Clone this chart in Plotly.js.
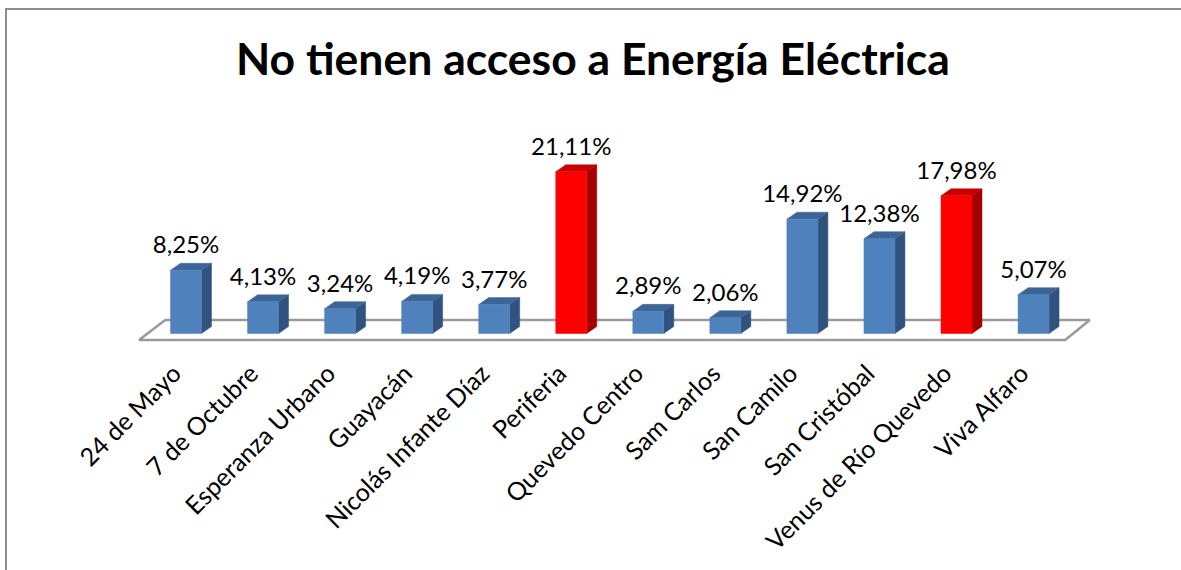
<!DOCTYPE html>
<html>
<head>
<meta charset="utf-8">
<script src="https://cdn.plot.ly/plotly-3.0.1.min.js"></script>
<style>
  html, body { margin: 0; padding: 0; background: #fff; }
  #wrap { position: relative; width: 1181px; height: 570px; overflow: hidden; }
  #chart { position: absolute; left: 0; top: 0; width: 1181px; height: 570px; }
  #frame { position: absolute; left: 5px; top: 8px; width: 1300px; height: 700px;
           border-left: 2px solid #8c8c8c; border-top: 2px solid #8c8c8c; pointer-events: none; }
</style>
</head>
<body>
<div id="wrap">
  <div id="chart"></div>
  <div id="frame"></div>
</div>
<script>
// ---- data ----
const categories = ["24 de Mayo", "7 de Octubre", "Esperanza Urbano", "Guayacán", "Nicolás Infante Díaz",
  "Periferia", "Quevedo Centro", "Sam Carlos", "San Camilo", "San Cristóbal", "Venus de Río Quevedo", "Viva Alfaro"];
const values = [8.25, 4.13, 3.24, 4.19, 3.77, 21.11, 2.89, 2.06, 14.92, 12.38, 17.98, 5.07];
const labels = ["8,25%", "4,13%", "3,24%", "4,19%", "3,77%", "21,11%", "2,89%", "2,06%", "14,92%", "12,38%", "17,98%", "5,07%"];
const highlighted = [false, false, false, false, false, true, false, false, false, false, true, false];

// ---- geometry / style ----
const pxPerUnitX = 77.05;       // pixels per category
const pxPerUnitY = 7.66;        // pixels per percent
const x0px = 186;               // pixel of first category
const y0px = 333.5;             // pixel of zero
const plotH = 353;              // plot area height (px)
const W = 1181, H = 570;
const barW = 0.402;
const depthX = 10 / pxPerUnitX;
const depthY = 7 / pxPerUnitY;
const labelGap = 4 / pxPerUnitY;
const tickShift = 12 / pxPerUnitX;

const xr = [-x0px / pxPerUnitX, (W - x0px) / pxPerUnitX];
const yr = [(y0px - plotH) / pxPerUnitY, y0px / pxPerUnitY];

const blue = {front: "#4F81BD", side: "#30527E", top: "#3C6597"};
const red = {front: "#FF0000", side: "#A30000", top: "#C80000"};

const traces = [];
// floor
const fl = -0.61, fr = 11.41, bl = -0.27, br = 11.73, fy = -0.85, by = 1.76;
traces.push({
  type: "scatter", mode: "lines", x: [fl, bl, br, fr, fl], y: [fy, by, by, fy, fy],
  fill: "toself", fillcolor: "#ffffff", line: {color: "#9a9a9a", width: 2.5},
  hoverinfo: "skip", showlegend: false
});

values.forEach((v, i) => {
  const c = highlighted[i] ? red : blue;
  const xl = i - barW / 2, xrr = i + barW / 2;
  // side face
  traces.push({
    type: "scatter", mode: "lines",
    x: [xrr, xrr + depthX, xrr + depthX, xrr, xrr],
    y: [0, depthY, v + depthY, v, 0],
    fill: "toself", fillcolor: c.side, line: {color: c.side, width: 0.5},
    hoverinfo: "skip", showlegend: false
  });
  // top face
  traces.push({
    type: "scatter", mode: "lines",
    x: [xl, xl + depthX, xrr + depthX, xrr, xl],
    y: [v, v + depthY, v + depthY, v, v],
    fill: "toself", fillcolor: c.top, line: {color: c.top, width: 0.5},
    hoverinfo: "skip", showlegend: false
  });
  // front face
  traces.push({
    type: "scatter", mode: "lines",
    x: [xl, xl, xrr, xrr, xl],
    y: [0, v, v, 0, 0],
    fill: "toself", fillcolor: c.front, line: {color: c.front, width: 0.5},
    hoverinfo: "skip", showlegend: false
  });
});

// data labels
traces.push({
  type: "scatter", mode: "text", x: categories.map((_, i) => i),
  y: values.map(v => v + depthY + labelGap),
  text: labels, textposition: "top center",
  textfont: {family: "Lato, sans-serif", size: 24, color: "#000"},
  hoverinfo: "skip", showlegend: false, cliponaxis: false
});

// carrier trace for the category-label axis
traces.push({
  type: "scatter", mode: "markers", x: [0], y: [0], xaxis: "x2",
  marker: {opacity: 0}, hoverinfo: "skip", showlegend: false
});

const layout = {
  width: W, height: H,
  margin: {l: 0, r: 0, t: 0, b: H - plotH, pad: 0},
  paper_bgcolor: "#fff", plot_bgcolor: "rgba(0,0,0,0)",
  title: {
    text: "<b>No tienen acceso a Energía Eléctrica</b>",
    font: {family: "Lato, sans-serif", size: 44.5, color: "#000"},
    x: 0.502, xanchor: "center", xref: "container",
    y: 1 - 59 / H, yanchor: "middle", yref: "container"
  },
  xaxis: {
    range: xr, showticklabels: false, showgrid: false, zeroline: false, showline: false, ticks: "",
    automargin: false, fixedrange: true
  },
  xaxis2: {
    overlaying: "x", anchor: "y", side: "bottom",
    range: [xr[0] + tickShift, xr[1] + tickShift],
    tickmode: "array", tickvals: categories.map((_, i) => i), ticktext: categories,
    tickangle: -45, showgrid: false, zeroline: false, showline: false, ticks: "",
    tickfont: {family: "Lato, sans-serif", size: 25, color: "#000"}, automargin: false, fixedrange: true
  },
  yaxis: {range: yr, visible: false, fixedrange: true},
  showlegend: false
};

Plotly.newPlot("chart", traces, layout, {displayModeBar: false, staticPlot: true});
</script>
</body>
</html>
